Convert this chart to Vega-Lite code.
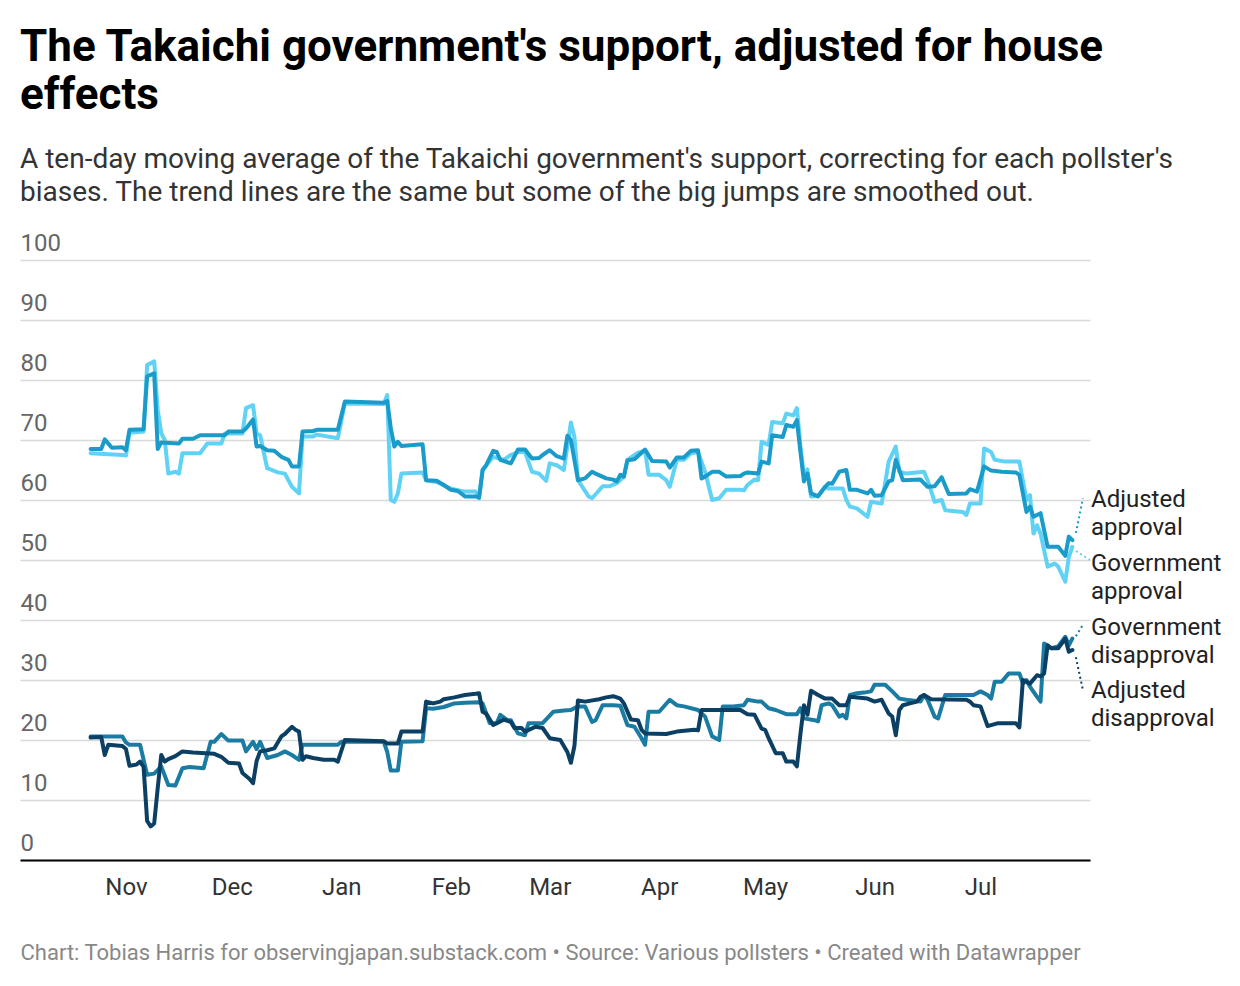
{
  "$schema": "https://vega.github.io/schema/vega-lite/v6.json",
  "width": 1070,
  "height": 600,
  "autosize": {"type": "none"},
  "padding": {"left": 20, "top": 260, "right": 150, "bottom": 126},
  "background": "white",
  "title": {
    "text": ["The Takaichi government's support, adjusted for house", "effects"],
    "subtitle": ["A ten-day moving average of the Takaichi government's support, correcting for each pollster's", "biases. The trend lines are the same but some of the big jumps are smoothed out."],
    "anchor": "start",
    "frame": "group",
    "font": "Roboto",
    "fontSize": 44,
    "fontWeight": 700,
    "color": "#000",
    "lineHeight": 48,
    "subtitleFont": "Roboto",
    "subtitleFontSize": 28,
    "subtitleColor": "#333",
    "subtitleLineHeight": 33.5,
    "subtitlePadding": 28,
    "offset": 24
  },
  "encoding": {
    "x": {
      "field": "date",
      "type": "temporal",
      "scale": {
        "type": "utc",
        "domain": [
          {"year": 2025, "month": 10, "date": 2, "utc": true},
          {"year": 2026, "month": 8, "date": 1, "utc": true}
        ]
      },
      "axis": {
        "title": "Chart: Tobias Harris for observingjapan.substack.com • Source: Various pollsters • Created with Datawrapper",
        "titleAnchor": "start",
        "titleAlign": "left",
        "titlePadding": 43,
        "titleFont": "Roboto",
        "titleFontSize": 22,
        "titleFontWeight": "normal",
        "titleColor": "#888",
        "values": [
          {"year": 2025, "month": 11, "date": 1, "utc": true},
          {"year": 2025, "month": 12, "date": 1, "utc": true},
          {"year": 2026, "month": 1, "date": 1, "utc": true},
          {"year": 2026, "month": 2, "date": 1, "utc": true},
          {"year": 2026, "month": 3, "date": 1, "utc": true},
          {"year": 2026, "month": 4, "date": 1, "utc": true},
          {"year": 2026, "month": 5, "date": 1, "utc": true},
          {"year": 2026, "month": 6, "date": 1, "utc": true},
          {"year": 2026, "month": 7, "date": 1, "utc": true}
        ],
        "format": "%b",
        "grid": false,
        "ticks": false,
        "tickSize": 0,
        "domainColor": "#000",
        "domainWidth": 2,
        "labelPadding": 15,
        "labelFont": "Roboto",
        "labelFontSize": 24,
        "labelColor": "#333",
        "labelAlign": "center",
        "labelFlush": false,
        "labelOverlap": false
      }
    },
    "y": {
      "field": "value",
      "type": "quantitative",
      "scale": {"domain": [0, 100], "nice": false},
      "axis": {
        "title": null,
        "values": [0, 10, 20, 30, 40, 50, 60, 70, 80, 90, 100],
        "domain": false,
        "ticks": false,
        "tickSize": 0,
        "grid": true,
        "gridColor": "#d9d9d9",
        "gridWidth": 1.6,
        "labelAlign": "left",
        "labelBaseline": "alphabetic",
        "labelPadding": 0,
        "labelOffset": -10,
        "labelFont": "Roboto",
        "labelFontSize": 24,
        "labelColor": "#666",
        "labelOverlap": false
      }
    }
  },
  "layer": [
    {
      "data": {"values": [
        {"date": "2025-10-22", "value": 67.8}, {"date": "2025-10-31", "value": 67.5}, {"date": "2025-11-01", "value": 67.4}, {"date": "2025-11-02", "value": 71.2},
        {"date": "2025-11-06", "value": 71.4}, {"date": "2025-11-07", "value": 82.5}, {"date": "2025-11-09", "value": 83.1}, {"date": "2025-11-10", "value": 75},
        {"date": "2025-11-11", "value": 71.1}, {"date": "2025-11-12", "value": 70}, {"date": "2025-11-13", "value": 64.4}, {"date": "2025-11-15", "value": 64.7},
        {"date": "2025-11-16", "value": 64.4}, {"date": "2025-11-17", "value": 67.8}, {"date": "2025-11-22", "value": 67.8}, {"date": "2025-11-24", "value": 69.4},
        {"date": "2025-11-28", "value": 69.4}, {"date": "2025-11-29", "value": 71.1}, {"date": "2025-12-04", "value": 71.1}, {"date": "2025-12-05", "value": 75.3},
        {"date": "2025-12-07", "value": 75.8}, {"date": "2025-12-08", "value": 71.1}, {"date": "2025-12-09", "value": 70.8}, {"date": "2025-12-10", "value": 68},
        {"date": "2025-12-11", "value": 65.3}, {"date": "2025-12-14", "value": 64.6}, {"date": "2025-12-16", "value": 64.4}, {"date": "2025-12-18", "value": 62.2},
        {"date": "2025-12-20", "value": 61.1}, {"date": "2025-12-21", "value": 70.6}, {"date": "2025-12-24", "value": 70.6}, {"date": "2025-12-25", "value": 70.9},
        {"date": "2025-12-31", "value": 70.3}, {"date": "2026-01-02", "value": 76.1}, {"date": "2026-01-13", "value": 76}, {"date": "2026-01-14", "value": 77.5},
        {"date": "2026-01-15", "value": 60}, {"date": "2026-01-16", "value": 59.7}, {"date": "2026-01-17", "value": 61.1}, {"date": "2026-01-18", "value": 64.4},
        {"date": "2026-01-24", "value": 64.6}, {"date": "2026-01-25", "value": 63.3}, {"date": "2026-01-28", "value": 63}, {"date": "2026-02-01", "value": 61.9},
        {"date": "2026-02-05", "value": 61.4}, {"date": "2026-02-08", "value": 61.4}, {"date": "2026-02-09", "value": 60.3}, {"date": "2026-02-10", "value": 65},
        {"date": "2026-02-13", "value": 67.2}, {"date": "2026-02-16", "value": 66.7}, {"date": "2026-02-18", "value": 67.5}, {"date": "2026-02-20", "value": 68},
        {"date": "2026-02-22", "value": 68}, {"date": "2026-02-24", "value": 64.7}, {"date": "2026-02-26", "value": 64.4}, {"date": "2026-02-28", "value": 63.2},
        {"date": "2026-03-01", "value": 66.1}, {"date": "2026-03-03", "value": 65.8}, {"date": "2026-03-05", "value": 65}, {"date": "2026-03-07", "value": 72.9},
        {"date": "2026-03-08", "value": 70.5}, {"date": "2026-03-09", "value": 63.3}, {"date": "2026-03-12", "value": 60.6}, {"date": "2026-03-13", "value": 60.3},
        {"date": "2026-03-16", "value": 62.3}, {"date": "2026-03-18", "value": 62.3}, {"date": "2026-03-20", "value": 62.8}, {"date": "2026-03-22", "value": 63.9},
        {"date": "2026-03-23", "value": 66.7}, {"date": "2026-03-26", "value": 67.9}, {"date": "2026-03-28", "value": 68.2}, {"date": "2026-03-29", "value": 64.2},
        {"date": "2026-04-01", "value": 64.2}, {"date": "2026-04-03", "value": 63.3}, {"date": "2026-04-04", "value": 62.2}, {"date": "2026-04-06", "value": 66.7},
        {"date": "2026-04-08", "value": 66.7}, {"date": "2026-04-10", "value": 67.8}, {"date": "2026-04-12", "value": 68}, {"date": "2026-04-14", "value": 64.7},
        {"date": "2026-04-16", "value": 60}, {"date": "2026-04-18", "value": 60.3}, {"date": "2026-04-20", "value": 61.7}, {"date": "2026-04-24", "value": 61.7},
        {"date": "2026-04-25", "value": 61.6}, {"date": "2026-04-26", "value": 62.5}, {"date": "2026-04-28", "value": 63.4}, {"date": "2026-04-29", "value": 63.3},
        {"date": "2026-04-30", "value": 69.7}, {"date": "2026-05-02", "value": 69.2}, {"date": "2026-05-03", "value": 73}, {"date": "2026-05-06", "value": 72.8},
        {"date": "2026-05-07", "value": 74.4}, {"date": "2026-05-09", "value": 74.1}, {"date": "2026-05-10", "value": 75.3}, {"date": "2026-05-11", "value": 69},
        {"date": "2026-05-12", "value": 64}, {"date": "2026-05-13", "value": 65.1}, {"date": "2026-05-14", "value": 60.6}, {"date": "2026-05-16", "value": 60.7},
        {"date": "2026-05-18", "value": 62.2}, {"date": "2026-05-19", "value": 61.9}, {"date": "2026-05-23", "value": 61.9}, {"date": "2026-05-24", "value": 60},
        {"date": "2026-05-25", "value": 58.9}, {"date": "2026-05-27", "value": 58.6}, {"date": "2026-05-30", "value": 57.2}, {"date": "2026-05-31", "value": 59.7},
        {"date": "2026-06-03", "value": 59.4}, {"date": "2026-06-05", "value": 66.4}, {"date": "2026-06-07", "value": 68.9}, {"date": "2026-06-08", "value": 64.7},
        {"date": "2026-06-10", "value": 64.4}, {"date": "2026-06-15", "value": 64.7}, {"date": "2026-06-16", "value": 63.3}, {"date": "2026-06-18", "value": 59.7},
        {"date": "2026-06-20", "value": 60}, {"date": "2026-06-21", "value": 58.3}, {"date": "2026-06-26", "value": 58}, {"date": "2026-06-27", "value": 57.5},
        {"date": "2026-06-28", "value": 59.4}, {"date": "2026-07-01", "value": 59.4}, {"date": "2026-07-02", "value": 68.6}, {"date": "2026-07-04", "value": 68},
        {"date": "2026-07-05", "value": 66.7}, {"date": "2026-07-08", "value": 66.4}, {"date": "2026-07-12", "value": 66.4}, {"date": "2026-07-14", "value": 60},
        {"date": "2026-07-15", "value": 60.8}, {"date": "2026-07-16", "value": 54.4}, {"date": "2026-07-17", "value": 55.8}, {"date": "2026-07-18", "value": 54.4},
        {"date": "2026-07-20", "value": 48.9}, {"date": "2026-07-22", "value": 49.4}, {"date": "2026-07-23", "value": 48.9}, {"date": "2026-07-25", "value": 46.4},
        {"date": "2026-07-26", "value": 50.5}, {"date": "2026-07-27", "value": 52.2}
      ]},
      "mark": {"type": "line", "strokeWidth": 4, "strokeJoin": "round", "strokeCap": "round"},
      "encoding": {"color": {"datum": "Government approval", "legend": null}}
    },
    {
      "data": {"values": [
        {"date": "2025-10-22", "value": 68.5}, {"date": "2025-10-25", "value": 68.5}, {"date": "2025-10-26", "value": 70.1}, {"date": "2025-10-28", "value": 68.7},
        {"date": "2025-10-31", "value": 68.8}, {"date": "2025-11-01", "value": 68.3}, {"date": "2025-11-02", "value": 71.7}, {"date": "2025-11-06", "value": 71.8},
        {"date": "2025-11-07", "value": 80.6}, {"date": "2025-11-09", "value": 81.1}, {"date": "2025-11-10", "value": 68.5}, {"date": "2025-11-11", "value": 69.6},
        {"date": "2025-11-16", "value": 69.4}, {"date": "2025-11-17", "value": 70.2}, {"date": "2025-11-20", "value": 70.2}, {"date": "2025-11-22", "value": 70.8},
        {"date": "2025-11-29", "value": 70.8}, {"date": "2025-11-30", "value": 71.4}, {"date": "2025-12-04", "value": 71.4}, {"date": "2025-12-05", "value": 71.9},
        {"date": "2025-12-07", "value": 73.4}, {"date": "2025-12-08", "value": 68.9}, {"date": "2025-12-09", "value": 69}, {"date": "2025-12-11", "value": 68.3},
        {"date": "2025-12-13", "value": 68.2}, {"date": "2025-12-15", "value": 67.2}, {"date": "2025-12-17", "value": 66.7}, {"date": "2025-12-18", "value": 65.6},
        {"date": "2025-12-20", "value": 65.6}, {"date": "2025-12-21", "value": 71.4}, {"date": "2025-12-24", "value": 71.5}, {"date": "2025-12-25", "value": 71.7},
        {"date": "2025-12-31", "value": 71.7}, {"date": "2026-01-02", "value": 76.4}, {"date": "2026-01-13", "value": 76.2}, {"date": "2026-01-14", "value": 76.5},
        {"date": "2026-01-15", "value": 72}, {"date": "2026-01-16", "value": 68.9}, {"date": "2026-01-17", "value": 69.7}, {"date": "2026-01-18", "value": 69},
        {"date": "2026-01-24", "value": 69.3}, {"date": "2026-01-25", "value": 63.3}, {"date": "2026-01-28", "value": 63.2}, {"date": "2026-01-30", "value": 62.5},
        {"date": "2026-02-01", "value": 61.7}, {"date": "2026-02-03", "value": 61.5}, {"date": "2026-02-05", "value": 60.6}, {"date": "2026-02-08", "value": 60.6},
        {"date": "2026-02-09", "value": 60.4}, {"date": "2026-02-10", "value": 65}, {"date": "2026-02-11", "value": 65.8}, {"date": "2026-02-13", "value": 68.2},
        {"date": "2026-02-14", "value": 68}, {"date": "2026-02-15", "value": 66.7}, {"date": "2026-02-18", "value": 66.1}, {"date": "2026-02-20", "value": 68.4},
        {"date": "2026-02-22", "value": 68.4}, {"date": "2026-02-24", "value": 66.9}, {"date": "2026-02-26", "value": 67}, {"date": "2026-02-27", "value": 67.5},
        {"date": "2026-03-01", "value": 68.3}, {"date": "2026-03-03", "value": 67.3}, {"date": "2026-03-05", "value": 66.9}, {"date": "2026-03-06", "value": 70.7},
        {"date": "2026-03-07", "value": 70}, {"date": "2026-03-09", "value": 63.3}, {"date": "2026-03-11", "value": 63.6}, {"date": "2026-03-13", "value": 64.7},
        {"date": "2026-03-14", "value": 64.4}, {"date": "2026-03-17", "value": 63.6}, {"date": "2026-03-19", "value": 63.4}, {"date": "2026-03-20", "value": 63.1},
        {"date": "2026-03-21", "value": 64.2}, {"date": "2026-03-22", "value": 63.9}, {"date": "2026-03-23", "value": 66.6}, {"date": "2026-03-25", "value": 66.8},
        {"date": "2026-03-28", "value": 68.4}, {"date": "2026-03-30", "value": 66.5}, {"date": "2026-04-03", "value": 66.4}, {"date": "2026-04-04", "value": 65.4},
        {"date": "2026-04-06", "value": 67.1}, {"date": "2026-04-08", "value": 67.1}, {"date": "2026-04-10", "value": 68.2}, {"date": "2026-04-12", "value": 68.3},
        {"date": "2026-04-13", "value": 63.6}, {"date": "2026-04-14", "value": 63.9}, {"date": "2026-04-16", "value": 64.7}, {"date": "2026-04-18", "value": 64.7},
        {"date": "2026-04-20", "value": 63.9}, {"date": "2026-04-24", "value": 64}, {"date": "2026-04-25", "value": 64.4}, {"date": "2026-04-26", "value": 64.6},
        {"date": "2026-04-29", "value": 64.4}, {"date": "2026-04-30", "value": 66.4}, {"date": "2026-05-02", "value": 66.1}, {"date": "2026-05-03", "value": 70.8},
        {"date": "2026-05-06", "value": 70.5}, {"date": "2026-05-07", "value": 72.5}, {"date": "2026-05-09", "value": 72.2}, {"date": "2026-05-10", "value": 73.3},
        {"date": "2026-05-11", "value": 68}, {"date": "2026-05-12", "value": 63.1}, {"date": "2026-05-13", "value": 64.4}, {"date": "2026-05-14", "value": 61.1},
        {"date": "2026-05-16", "value": 60.6}, {"date": "2026-05-18", "value": 62.2}, {"date": "2026-05-19", "value": 62.8}, {"date": "2026-05-20", "value": 62.7},
        {"date": "2026-05-22", "value": 64.7}, {"date": "2026-05-24", "value": 65}, {"date": "2026-05-25", "value": 61.7}, {"date": "2026-05-27", "value": 61.7},
        {"date": "2026-05-30", "value": 61.1}, {"date": "2026-05-31", "value": 61.7}, {"date": "2026-06-01", "value": 60.7}, {"date": "2026-06-03", "value": 60.8},
        {"date": "2026-06-05", "value": 63.1}, {"date": "2026-06-06", "value": 63.3}, {"date": "2026-06-07", "value": 66.7}, {"date": "2026-06-09", "value": 63.3},
        {"date": "2026-06-14", "value": 63.4}, {"date": "2026-06-16", "value": 62.2}, {"date": "2026-06-18", "value": 62.3}, {"date": "2026-06-20", "value": 63.8},
        {"date": "2026-06-22", "value": 61}, {"date": "2026-06-27", "value": 61.1}, {"date": "2026-06-28", "value": 61.8}, {"date": "2026-06-30", "value": 61.4},
        {"date": "2026-07-02", "value": 65.6}, {"date": "2026-07-04", "value": 64.9}, {"date": "2026-07-07", "value": 64.7}, {"date": "2026-07-11", "value": 64.6},
        {"date": "2026-07-12", "value": 64.2}, {"date": "2026-07-14", "value": 58}, {"date": "2026-07-15", "value": 58.9}, {"date": "2026-07-16", "value": 57.2},
        {"date": "2026-07-18", "value": 57.8}, {"date": "2026-07-20", "value": 52.2}, {"date": "2026-07-23", "value": 52.2}, {"date": "2026-07-25", "value": 50.7},
        {"date": "2026-07-26", "value": 53.9}, {"date": "2026-07-27", "value": 53.3}
      ]},
      "mark": {"type": "line", "strokeWidth": 4, "strokeJoin": "round", "strokeCap": "round"},
      "encoding": {"color": {"datum": "Adjusted approval", "legend": null}}
    },
    {
      "data": {"values": [
        {"date": "2025-10-22", "value": 20.6}, {"date": "2025-10-31", "value": 20.6}, {"date": "2025-11-01", "value": 19.6}, {"date": "2025-11-02", "value": 19.2},
        {"date": "2025-11-05", "value": 19.2}, {"date": "2025-11-06", "value": 16.7}, {"date": "2025-11-07", "value": 14.2}, {"date": "2025-11-09", "value": 14.4},
        {"date": "2025-11-11", "value": 15.6}, {"date": "2025-11-13", "value": 12.5}, {"date": "2025-11-15", "value": 12.4}, {"date": "2025-11-17", "value": 15.3},
        {"date": "2025-11-19", "value": 15.5}, {"date": "2025-11-23", "value": 15.3}, {"date": "2025-11-25", "value": 19.7}, {"date": "2025-11-26", "value": 19.7},
        {"date": "2025-11-28", "value": 21}, {"date": "2025-11-30", "value": 19.9}, {"date": "2025-12-04", "value": 19.9}, {"date": "2025-12-05", "value": 18.1},
        {"date": "2025-12-07", "value": 19.7}, {"date": "2025-12-08", "value": 18.5}, {"date": "2025-12-09", "value": 19.7}, {"date": "2025-12-11", "value": 17},
        {"date": "2025-12-14", "value": 17.5}, {"date": "2025-12-16", "value": 18.1}, {"date": "2025-12-18", "value": 17.5}, {"date": "2025-12-20", "value": 16.7},
        {"date": "2025-12-21", "value": 19.2}, {"date": "2025-12-31", "value": 19.2}, {"date": "2026-01-01", "value": 19.7}, {"date": "2026-01-13", "value": 19.7},
        {"date": "2026-01-14", "value": 18}, {"date": "2026-01-15", "value": 14.9}, {"date": "2026-01-17", "value": 14.9}, {"date": "2026-01-18", "value": 19.7},
        {"date": "2026-01-24", "value": 19.8}, {"date": "2026-01-25", "value": 25.3}, {"date": "2026-01-27", "value": 25.2}, {"date": "2026-01-30", "value": 25.5},
        {"date": "2026-02-02", "value": 26.1}, {"date": "2026-02-05", "value": 26.2}, {"date": "2026-02-09", "value": 26.3}, {"date": "2026-02-10", "value": 26.1},
        {"date": "2026-02-12", "value": 22.8}, {"date": "2026-02-14", "value": 22.8}, {"date": "2026-02-15", "value": 24.2}, {"date": "2026-02-17", "value": 23.3},
        {"date": "2026-02-18", "value": 23.3}, {"date": "2026-02-20", "value": 21.1}, {"date": "2026-02-22", "value": 20.8}, {"date": "2026-02-23", "value": 22.8},
        {"date": "2026-02-27", "value": 22.8}, {"date": "2026-03-02", "value": 24.7}, {"date": "2026-03-05", "value": 24.9}, {"date": "2026-03-07", "value": 25},
        {"date": "2026-03-09", "value": 25.6}, {"date": "2026-03-11", "value": 25.6}, {"date": "2026-03-13", "value": 23}, {"date": "2026-03-14", "value": 23.3},
        {"date": "2026-03-16", "value": 25.8}, {"date": "2026-03-19", "value": 25.8}, {"date": "2026-03-21", "value": 25.7}, {"date": "2026-03-23", "value": 22.5},
        {"date": "2026-03-25", "value": 22.2}, {"date": "2026-03-27", "value": 20.3}, {"date": "2026-03-28", "value": 19.2}, {"date": "2026-03-29", "value": 24.7},
        {"date": "2026-04-01", "value": 24.7}, {"date": "2026-04-04", "value": 26.7}, {"date": "2026-04-06", "value": 25.8}, {"date": "2026-04-08", "value": 25.6},
        {"date": "2026-04-12", "value": 25}, {"date": "2026-04-14", "value": 23.9}, {"date": "2026-04-16", "value": 20.6}, {"date": "2026-04-18", "value": 20},
        {"date": "2026-04-19", "value": 25.6}, {"date": "2026-04-22", "value": 25.6}, {"date": "2026-04-25", "value": 25.8}, {"date": "2026-04-26", "value": 26.7},
        {"date": "2026-04-29", "value": 26.4}, {"date": "2026-04-30", "value": 26.4}, {"date": "2026-05-02", "value": 25.3}, {"date": "2026-05-04", "value": 25},
        {"date": "2026-05-07", "value": 24.3}, {"date": "2026-05-10", "value": 24.3}, {"date": "2026-05-11", "value": 25.3}, {"date": "2026-05-12", "value": 23.6},
        {"date": "2026-05-15", "value": 23.3}, {"date": "2026-05-16", "value": 23.1}, {"date": "2026-05-17", "value": 25.8}, {"date": "2026-05-19", "value": 26.1},
        {"date": "2026-05-20", "value": 25.8}, {"date": "2026-05-22", "value": 23.9}, {"date": "2026-05-23", "value": 24.2}, {"date": "2026-05-24", "value": 23.6},
        {"date": "2026-05-25", "value": 27.5}, {"date": "2026-05-27", "value": 27.8}, {"date": "2026-05-29", "value": 27.9}, {"date": "2026-05-31", "value": 28.1},
        {"date": "2026-06-01", "value": 29.2}, {"date": "2026-06-04", "value": 29.2}, {"date": "2026-06-06", "value": 28.1}, {"date": "2026-06-08", "value": 26.9},
        {"date": "2026-06-10", "value": 26.7}, {"date": "2026-06-14", "value": 26.4}, {"date": "2026-06-15", "value": 27.5}, {"date": "2026-06-16", "value": 26.7},
        {"date": "2026-06-18", "value": 23.9}, {"date": "2026-06-19", "value": 23.6}, {"date": "2026-06-21", "value": 27.5}, {"date": "2026-06-29", "value": 27.5},
        {"date": "2026-07-01", "value": 28.1}, {"date": "2026-07-03", "value": 27.5}, {"date": "2026-07-04", "value": 26.9}, {"date": "2026-07-05", "value": 29.7},
        {"date": "2026-07-07", "value": 29.7}, {"date": "2026-07-09", "value": 31.1}, {"date": "2026-07-12", "value": 31.1}, {"date": "2026-07-13", "value": 29.4},
        {"date": "2026-07-14", "value": 30}, {"date": "2026-07-15", "value": 28.9}, {"date": "2026-07-17", "value": 27.2}, {"date": "2026-07-18", "value": 26.4},
        {"date": "2026-07-19", "value": 36.1}, {"date": "2026-07-21", "value": 35.3}, {"date": "2026-07-23", "value": 35.6}, {"date": "2026-07-25", "value": 37.2},
        {"date": "2026-07-26", "value": 35.8}, {"date": "2026-07-27", "value": 36.9}
      ]},
      "mark": {"type": "line", "strokeWidth": 4, "strokeJoin": "round", "strokeCap": "round"},
      "encoding": {"color": {"datum": "Government disapproval", "legend": null}}
    },
    {
      "data": {"values": [
        {"date": "2025-10-22", "value": 20.4}, {"date": "2025-10-25", "value": 20.5}, {"date": "2025-10-26", "value": 17.5}, {"date": "2025-10-27", "value": 19.2},
        {"date": "2025-10-31", "value": 19}, {"date": "2025-11-01", "value": 18.5}, {"date": "2025-11-02", "value": 15.7}, {"date": "2025-11-04", "value": 15.9},
        {"date": "2025-11-05", "value": 16.4}, {"date": "2025-11-06", "value": 15.5}, {"date": "2025-11-07", "value": 6.5}, {"date": "2025-11-08", "value": 5.6},
        {"date": "2025-11-09", "value": 6.1}, {"date": "2025-11-10", "value": 12}, {"date": "2025-11-11", "value": 17.5}, {"date": "2025-11-12", "value": 16.4},
        {"date": "2025-11-13", "value": 16.8}, {"date": "2025-11-15", "value": 17.3}, {"date": "2025-11-17", "value": 18.1}, {"date": "2025-11-20", "value": 17.9},
        {"date": "2025-11-26", "value": 17.7}, {"date": "2025-11-28", "value": 17.2}, {"date": "2025-11-30", "value": 16.2}, {"date": "2025-12-03", "value": 16.1},
        {"date": "2025-12-04", "value": 14.5}, {"date": "2025-12-05", "value": 14}, {"date": "2025-12-06", "value": 13.5}, {"date": "2025-12-07", "value": 12.8},
        {"date": "2025-12-08", "value": 16.5}, {"date": "2025-12-09", "value": 18.1}, {"date": "2025-12-11", "value": 18.3}, {"date": "2025-12-13", "value": 18.6},
        {"date": "2025-12-15", "value": 20.6}, {"date": "2025-12-16", "value": 21}, {"date": "2025-12-18", "value": 22.2}, {"date": "2025-12-19", "value": 21.7},
        {"date": "2025-12-20", "value": 21.4}, {"date": "2025-12-21", "value": 16.7}, {"date": "2025-12-22", "value": 17.3}, {"date": "2025-12-24", "value": 17},
        {"date": "2025-12-27", "value": 16.7}, {"date": "2025-12-30", "value": 16.7}, {"date": "2025-12-31", "value": 16.4}, {"date": "2026-01-02", "value": 20},
        {"date": "2026-01-13", "value": 19.8}, {"date": "2026-01-14", "value": 19.4}, {"date": "2026-01-17", "value": 19.4}, {"date": "2026-01-18", "value": 21.4},
        {"date": "2026-01-24", "value": 21.4}, {"date": "2026-01-25", "value": 26.4}, {"date": "2026-01-27", "value": 26.1}, {"date": "2026-01-29", "value": 26.4},
        {"date": "2026-01-30", "value": 26.8}, {"date": "2026-02-02", "value": 27.1}, {"date": "2026-02-05", "value": 27.5}, {"date": "2026-02-08", "value": 27.7},
        {"date": "2026-02-09", "value": 27.8}, {"date": "2026-02-10", "value": 24.7}, {"date": "2026-02-11", "value": 24.4}, {"date": "2026-02-13", "value": 22.5},
        {"date": "2026-02-14", "value": 22.8}, {"date": "2026-02-16", "value": 23.4}, {"date": "2026-02-18", "value": 23}, {"date": "2026-02-19", "value": 22},
        {"date": "2026-02-21", "value": 22}, {"date": "2026-02-22", "value": 21.4}, {"date": "2026-02-25", "value": 22.2}, {"date": "2026-02-27", "value": 22},
        {"date": "2026-03-01", "value": 20.3}, {"date": "2026-03-04", "value": 20}, {"date": "2026-03-06", "value": 18}, {"date": "2026-03-07", "value": 16.2},
        {"date": "2026-03-08", "value": 19}, {"date": "2026-03-09", "value": 26.6}, {"date": "2026-03-11", "value": 26.4}, {"date": "2026-03-15", "value": 26.8},
        {"date": "2026-03-17", "value": 27.1}, {"date": "2026-03-19", "value": 27.3}, {"date": "2026-03-21", "value": 26.9}, {"date": "2026-03-22", "value": 26.1},
        {"date": "2026-03-24", "value": 23.4}, {"date": "2026-03-26", "value": 23.3}, {"date": "2026-03-27", "value": 21.7}, {"date": "2026-03-28", "value": 21.1},
        {"date": "2026-04-03", "value": 21}, {"date": "2026-04-06", "value": 21.4}, {"date": "2026-04-11", "value": 21.7}, {"date": "2026-04-12", "value": 21.6},
        {"date": "2026-04-13", "value": 25}, {"date": "2026-04-16", "value": 25}, {"date": "2026-04-24", "value": 25}, {"date": "2026-04-26", "value": 24.3},
        {"date": "2026-04-28", "value": 24.2}, {"date": "2026-04-30", "value": 21.9}, {"date": "2026-05-01", "value": 21.7}, {"date": "2026-05-02", "value": 20.3},
        {"date": "2026-05-04", "value": 17.8}, {"date": "2026-05-06", "value": 17.8}, {"date": "2026-05-07", "value": 16.4}, {"date": "2026-05-09", "value": 16.4},
        {"date": "2026-05-10", "value": 15.6}, {"date": "2026-05-11", "value": 21}, {"date": "2026-05-12", "value": 25.8}, {"date": "2026-05-13", "value": 24.2},
        {"date": "2026-05-14", "value": 28.2}, {"date": "2026-05-16", "value": 27.5}, {"date": "2026-05-18", "value": 26.9}, {"date": "2026-05-20", "value": 26.9},
        {"date": "2026-05-22", "value": 25.8}, {"date": "2026-05-24", "value": 25.8}, {"date": "2026-05-25", "value": 27.2}, {"date": "2026-05-30", "value": 26.9},
        {"date": "2026-06-01", "value": 26.4}, {"date": "2026-06-03", "value": 26.7}, {"date": "2026-06-05", "value": 24.4}, {"date": "2026-06-06", "value": 23.9},
        {"date": "2026-06-07", "value": 20.8}, {"date": "2026-06-08", "value": 25}, {"date": "2026-06-09", "value": 25.8}, {"date": "2026-06-11", "value": 26.1},
        {"date": "2026-06-13", "value": 26.4}, {"date": "2026-06-14", "value": 27.2}, {"date": "2026-06-15", "value": 27.5}, {"date": "2026-06-17", "value": 26.8},
        {"date": "2026-06-27", "value": 26.7}, {"date": "2026-06-28", "value": 26.4}, {"date": "2026-06-29", "value": 25.8}, {"date": "2026-07-01", "value": 25.6},
        {"date": "2026-07-03", "value": 22.3}, {"date": "2026-07-06", "value": 22.8}, {"date": "2026-07-11", "value": 22.8}, {"date": "2026-07-12", "value": 22.1},
        {"date": "2026-07-13", "value": 30}, {"date": "2026-07-15", "value": 29.4}, {"date": "2026-07-17", "value": 30.8}, {"date": "2026-07-18", "value": 30.6},
        {"date": "2026-07-19", "value": 31.1}, {"date": "2026-07-20", "value": 35.8}, {"date": "2026-07-21", "value": 35.3}, {"date": "2026-07-23", "value": 35.3},
        {"date": "2026-07-25", "value": 36.9}, {"date": "2026-07-26", "value": 34.7}, {"date": "2026-07-27", "value": 35}
      ]},
      "mark": {"type": "line", "strokeWidth": 4, "strokeJoin": "round", "strokeCap": "round"},
      "encoding": {"color": {"datum": "Adjusted disapproval", "legend": null}}
    },
    {
      "data": {"values": [
        {"series": "Adjusted approval", "date": "2026-07-28", "value": 54.5, "date2": "2026-07-30", "value2": 60.3},
        {"series": "Government approval", "date": "2026-07-28", "value": 51.5, "date2": "2026-08-01", "value2": 50},
        {"series": "Government disapproval", "date": "2026-07-28", "value": 37.3, "date2": "2026-07-30", "value2": 39.2},
        {"series": "Adjusted disapproval", "date": "2026-07-28", "value": 33.8, "date2": "2026-07-30", "value2": 28.3}
      ]},
      "mark": {"type": "rule", "strokeDash": [2, 3], "strokeWidth": 2},
      "encoding": {
        "x2": {"field": "date2"},
        "y2": {"field": "value2"},
        "color": {
          "field": "series",
          "type": "nominal",
          "legend": null,
          "scale": {
            "domain": ["Government approval", "Adjusted approval", "Government disapproval", "Adjusted disapproval"],
            "range": ["#5fd2f5", "#1a9bc9", "#1b7ca3", "#0b4064"]
          }
        }
      }
    },
    {
      "data": {"values": [
        {"label": "Adjusted\napproval", "date": "2026-08-01", "value": 58.9},
        {"label": "Government\napproval", "date": "2026-08-01", "value": 48.2},
        {"label": "Government\ndisapproval", "date": "2026-08-01", "value": 37.5},
        {"label": "Adjusted\ndisapproval", "date": "2026-08-01", "value": 27}
      ]},
      "mark": {"type": "text", "align": "left", "baseline": "alphabetic", "dx": 1, "font": "Roboto", "fontSize": 24, "lineHeight": 28, "lineBreak": "\n", "color": "#222"},
      "encoding": {"text": {"field": "label"}}
    }
  ],
  "config": {"view": {"stroke": null}, "font": "Roboto"}
}
